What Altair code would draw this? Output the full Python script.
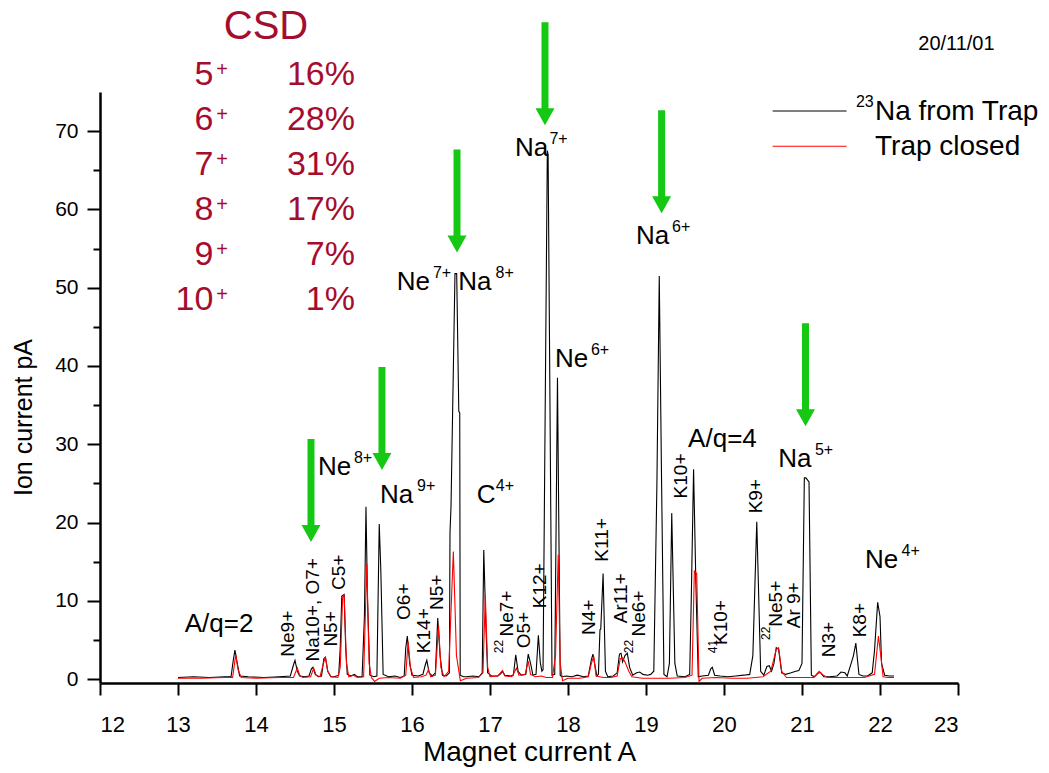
import altair as alt
import pandas as pd

# Magnet current (A) vs ion current (pA), 23Na injected from the trap
na_from_trap = [
    (13.00, 0.2), (13.20, 0.3), (13.40, 0.2), (13.60, 0.3), (13.68, 0.3), (13.71, 2.5), (13.73, 3.7),
    (13.76, 2.0), (13.79, 0.4), (13.90, 0.3), (14.10, 0.2), (14.30, 0.3), (14.44, 0.4), (14.48, 1.8),
    (14.50, 2.4), (14.53, 1.0), (14.56, 0.4), (14.62, 0.3), (14.68, 0.4), (14.71, 1.3), (14.73, 1.5),
    (14.76, 0.6), (14.80, 0.3), (14.84, 0.4), (14.87, 2.6), (14.89, 2.8), (14.92, 1.0), (14.96, 0.3),
    (15.00, 0.3), (15.06, 0.5), (15.08, 4.0), (15.10, 10.6), (15.13, 10.8), (15.15, 4.0), (15.17, 0.6),
    (15.22, 0.4), (15.26, 0.6), (15.30, 0.3), (15.36, 0.3), (15.39, 8.0), (15.41, 22.0), (15.43, 10.0),
    (15.46, 0.5), (15.51, 0.3), (15.55, 0.4), (15.58, 19.8), (15.60, 14.0), (15.63, 0.6), (15.70, 0.3),
    (15.78, 0.4), (15.85, 0.2), (15.90, 0.4), (15.92, 4.0), (15.94, 5.5), (15.97, 2.0), (16.00, 0.5),
    (16.08, 0.4), (16.14, 0.6), (16.17, 1.8), (16.19, 2.4), (16.22, 0.8), (16.26, 0.4), (16.30, 0.8),
    (16.33, 7.8), (16.36, 3.0), (16.39, 0.5), (16.44, 0.4), (16.48, 0.8), (16.487, 18.7), (16.50, 22.0),
    (16.551, 51.8), (16.573, 51.8), (16.60, 34.2), (16.612, 34.0), (16.618, 0.5), (16.66, 0.3),
    (16.70, 0.3), (16.78, 0.4), (16.86, 0.3), (16.90, 0.8), (16.92, 16.5), (16.95, 6.0), (16.97, 0.8),
    (17.02, 0.4), (17.10, 0.4), (17.14, 0.7), (17.16, 1.0), (17.19, 0.5), (17.26, 0.4), (17.30, 0.5),
    (17.33, 3.1), (17.36, 1.0), (17.40, 0.5), (17.46, 0.6), (17.49, 3.2), (17.52, 2.0), (17.55, 0.5),
    (17.59, 0.6), (17.62, 5.6), (17.645, 2.1), (17.665, 1.0), (17.68, 1.2), (17.735, 67.5), (17.745, 67.0),
    (17.795, 0.5), (17.83, 0.6), (17.865, 38.5), (17.90, 0.5), (17.92, 0.3), (17.98, 0.4), (18.05, 0.3),
    (18.12, 0.5), (18.20, 0.3), (18.26, 0.4), (18.30, 2.5), (18.32, 3.2), (18.35, 1.5), (18.37, 0.4),
    (18.39, 0.6), (18.41, 6.3), (18.42, 6.4), (18.45, 13.5), (18.48, 1.0), (18.51, 0.3), (18.58, 0.4),
    (18.63, 0.8), (18.66, 3.2), (18.68, 3.3), (18.70, 2.2), (18.73, 3.0), (18.76, 3.3), (18.79, 1.5),
    (18.83, 0.5), (18.88, 0.8), (18.92, 0.9), (18.96, 0.6), (19.02, 0.5), (19.06, 0.6), (19.10, 1.0),
    (19.14, 25.0), (19.17, 51.5), (19.20, 25.0), (19.23, 0.6), (19.27, 0.3), (19.30, 2.0), (19.33, 21.2),
    (19.37, 2.0), (19.40, 0.4), (19.50, 0.3), (19.56, 0.6), (19.58, 10.0), (19.61, 26.8), (19.64, 12.0),
    (19.67, 0.3), (19.72, 0.4), (19.80, 0.5), (19.83, 1.3), (19.85, 1.5), (19.88, 0.5), (19.95, 0.4),
    (20.05, 0.3), (20.15, 0.4), (20.25, 0.5), (20.33, 0.6), (20.37, 3.0), (20.42, 20.1), (20.47, 1.0),
    (20.51, 0.5), (20.55, 1.6), (20.58, 1.7), (20.61, 1.0), (20.64, 2.0), (20.67, 4.0), (20.70, 3.8),
    (20.74, 0.8), (20.79, 0.6), (20.86, 0.8), (20.92, 1.0), (20.96, 1.1), (21.00, 2.0), (21.03, 25.7),
    (21.05, 25.7), (21.09, 25.2), (21.12, 0.5), (21.16, 0.3), (21.21, 0.8), (21.24, 0.8), (21.28, 0.3),
    (21.35, 0.3), (21.45, 0.4), (21.50, 0.9), (21.55, 0.8), (21.58, 0.4), (21.63, 2.0), (21.66, 3.0),
    (21.69, 4.6), (21.73, 0.6), (21.78, 0.4), (21.84, 0.4), (21.90, 0.8), (21.93, 3.7), (21.97, 9.8),
    (22.00, 8.0), (22.02, 2.0), (22.06, 0.5), (22.12, 0.4), (22.18, 0.4),
]

# Same scan with the trap closed (background)
trap_closed = [
    (13.00, 0.1), (13.30, 0.1), (13.60, 0.2), (13.70, 0.2), (13.74, 3.1), (13.77, 1.2), (13.81, 0.2),
    (14.00, 0.1), (14.30, 0.2), (14.48, 0.2), (14.53, 1.4), (14.56, 0.5), (14.60, 0.2), (14.70, 0.3),
    (14.74, 1.4), (14.77, 0.5), (14.82, 0.3), (14.87, 2.2), (14.89, 2.8), (14.92, 1.0), (14.96, 0.3),
    (15.05, 0.2), (15.08, 1.5), (15.11, 10.4), (15.13, 10.8), (15.16, 2.0), (15.19, 0.3), (15.25, 0.5),
    (15.30, 0.2), (15.38, 0.3), (15.42, 14.7), (15.45, 2.0), (15.48, 0.2), (15.52, -0.3), (15.58, 0.1),
    (15.70, 0.2), (15.85, 0.1), (15.92, 0.5), (15.95, 4.8), (15.98, 1.5), (16.02, 0.2), (16.12, 0.3),
    (16.18, 0.5), (16.21, 1.2), (16.24, 0.3), (16.30, 0.5), (16.34, 6.9), (16.37, 1.5), (16.41, 0.3),
    (16.47, 1.0), (16.53, 16.3), (16.57, 3.0), (16.62, -0.2), (16.70, 0.1), (16.85, 0.2), (16.91, 0.8),
    (16.94, 10.7), (16.97, 1.5), (17.00, 0.3), (17.10, 0.4), (17.16, 1.1), (17.19, 0.4), (17.28, 0.3),
    (17.34, 1.4), (17.37, 0.5), (17.45, 0.6), (17.49, 2.3), (17.52, 0.6), (17.58, 0.3), (17.66, 0.4),
    (17.72, 0.2), (17.80, 0.2), (17.84, 3.0), (17.875, 15.9), (17.90, 2.0), (17.93, -0.2), (18.00, 0.1),
    (18.15, 0.1), (18.26, 0.3), (18.30, 2.0), (18.33, 2.9), (18.36, 0.4), (18.45, 0.2), (18.55, 0.2),
    (18.63, 0.4), (18.67, 2.6), (18.70, 2.7), (18.73, 2.2), (18.78, 1.0), (18.82, 0.3), (18.95, 0.1),
    (19.10, 0.1), (19.30, 0.1), (19.50, 0.2), (19.59, 0.5), (19.62, 13.8), (19.65, 13.5), (19.68, -0.3),
    (19.72, 0.1), (19.90, 0.2), (20.10, 0.1), (20.30, 0.1), (20.50, 0.3), (20.60, 1.0), (20.67, 3.8),
    (20.70, 4.0), (20.74, 1.0), (20.80, 0.2), (21.00, 0.2), (21.15, 0.2), (21.22, 1.0), (21.26, 0.6),
    (21.32, 0.2), (21.50, 0.2), (21.80, 0.2), (21.93, 0.6), (21.98, 5.5), (22.01, 3.0), (22.04, 0.3),
    (22.10, 0.2), (22.18, 0.2),
]

series_names = ["Na from Trap", "Trap closed"]
series_isotope = ["23", ""]
series_colors = ["#000000", "#ff0000"]

# Main ion species: element, charge, label anchor (A, pA) and charge anchor (A)
ion_elem = ["Ne", "Na", "Ne", "Na", "C", "Na", "Ne", "Na", "Na", "Ne"]
ion_charge = ["8+", "9+", "7+", "8+", "4+", "7+", "6+", "6+", "5+", "4+"]
ion_x = [14.795, 15.590, 15.804, 16.594, 16.830, 17.321, 17.833, 18.872, 20.696, 21.808]
ion_y = [26.07, 22.45, 49.70, 49.70, 22.45, 66.80, 39.85, 55.64, 27.12, 14.15]
ion_charge_x = [15.255, 16.065, 16.268, 17.072, 17.075, 17.762, 18.294, 19.334, 21.166, 22.276]

# A/q markers
aq_text = ["A/q=2", "A/q=4"]
aq_x = [13.526, 19.980]
aq_y = [6.05, 29.67]

# Minor peak identifications (written vertically)
tag_text = ["Ne9+", "Na10+, O7+", "N5+", "C5+", "O6+", "K14+", "N5+", "Ne7+", "O5+", "K12+",
            "N4+", "K11+", "Ar11+", "Ne6+", "K10+", "K10+", "K9+", "Ne5+", "Ar 9+", "N3+", "K8+"]
tag_x = [14.487, 14.808, 15.035, 15.141, 15.974, 16.231, 16.401, 17.299, 17.513, 17.718,
         18.346, 18.517, 18.751, 18.987, 20.033, 19.521, 20.482, 20.738, 20.974, 21.423, 21.821]
tag_y = [2.86, 2.24, 4.15, 11.38, 7.56, 3.31, 8.83, 5.43, 3.94, 9.05,
         5.64, 15.00, 7.14, 5.43, 4.35, 23.08, 21.17, 6.69, 6.49, 2.78, 5.33]

# Isotope mass numbers preceding some vertical tags
iso_text = ["22", "22", "41", "22"]
iso_x = [17.162, 18.837, 19.905, 20.590]
iso_y = [3.30, 3.30, 3.30, 5.00]

# Green arrows pointing at the sodium charge states (x, tip height)
arrow_x = [14.705, 15.615, 16.577, 17.705, 19.200, 21.045]
arrow_tip = [17.5, 26.7, 54.5, 70.75, 59.5, 32.3]

# Charge state distribution of the extracted sodium
csd_charge = ["5", "6", "7", "8", "9", "10"]
csd_percent = [16, 28, 31, 17, 7, 1]

run_date = "20/11/01"

x_ticks = [12 + 0.25 * i for i in range(45)]
y_ticks = [5 * i for i in range(15)]

FONT = "Liberation Sans"
WINE = "#a50d2e"
GREEN = "#14c814"
ARROW = "M0,0L-9.5,-17L-3.5,-17L-3.5,-103L3.5,-103L3.5,-17L9.5,-17Z"

xs = alt.Scale(domain=[12, 23], nice=False, zero=False)
ys = alt.Scale(domain=[-0.5, 75], nice=False, zero=False)

x_axis = alt.Axis(
    values=x_ticks, format="d", title="Magnet current A",
    labelExpr="datum.value % 1 === 0 ? datum.label : ''",
    tickSize={"condition": {"test": "datum.value % 1 !== 0", "value": 6}, "value": 12},
    labelFontSize=22, labelPadding=19,
    titleFontSize=28, titleY=77, titleBaseline="alphabetic",
)
y_axis = alt.Axis(
    values=y_ticks, format="d", title="Ion current pA",
    labelExpr="datum.value % 10 === 0 ? datum.label : ''",
    tickSize={"condition": {"test": "datum.value % 10 !== 0", "value": 7}, "value": 13},
    labelFontSize=21, labelPadding=9,
    titleFontSize=25, titleX=-69, titleY=325, titleAngle=270, titleAlign="center",
    titleBaseline="alphabetic",
)


def X(field="x"):
    return alt.X(f"{field}:Q", scale=xs, axis=x_axis)


def Y(field="y"):
    return alt.Y(f"{field}:Q", scale=ys, axis=y_axis)


def trace_df(points):
    return pd.DataFrame(points, columns=["x", "y"])


na_line = alt.Chart(trace_df(na_from_trap)).mark_line(
    color=series_colors[0], strokeWidth=1.1
).encode(x=X(), y=Y())
closed_line = alt.Chart(trace_df(trap_closed)).mark_line(
    color=series_colors[1], strokeWidth=1.1
).encode(x=X(), y=Y())

arrows = alt.Chart(pd.DataFrame({"x": arrow_x, "y": arrow_tip})).mark_point(
    shape=ARROW, size=4, filled=True, color=GREEN, opacity=1
).encode(x=X(), y=Y())

ions = pd.DataFrame({"elem": ion_elem, "charge": ion_charge, "x": ion_x, "y": ion_y, "cx": ion_charge_x})
ion_main = alt.Chart(ions).mark_text(
    font=FONT, fontSize=26, align="left", baseline="alphabetic", color="black"
).encode(x=X(), y=Y(), text="elem:N")
ion_sup = alt.Chart(ions).mark_text(
    font=FONT, fontSize=16, align="left", baseline="alphabetic", dy=-12, color="black"
).encode(x=X("cx"), y=Y(), text="charge:N")

aq = alt.Chart(pd.DataFrame({"t": aq_text, "x": aq_x, "y": aq_y})).mark_text(
    font=FONT, fontSize=26, align="center", baseline="alphabetic", color="black"
).encode(x=X(), y=Y(), text="t:N")

tags = alt.Chart(pd.DataFrame({"t": tag_text, "x": tag_x, "y": tag_y})).mark_text(
    font=FONT, fontSize=19, angle=270, align="left", baseline="alphabetic", color="black"
).encode(x=X(), y=Y(), text="t:N")
isos = alt.Chart(pd.DataFrame({"t": iso_text, "x": iso_x, "y": iso_y})).mark_text(
    font=FONT, fontSize=12, angle=270, align="left", baseline="alphabetic", color="black"
).encode(x=X(), y=Y(), text="t:N")

# Charge state table, laid out row by row below its heading
csd_top, csd_step = 75.86, 5.747
n_rows = len(csd_charge)
csd = pd.DataFrame({
    "q": csd_charge,
    "p": [f"{v}%" for v in csd_percent],
    "plus": ["+"] * n_rows,
    "y": [csd_top - i * csd_step for i in range(n_rows)],
    "xq": [13.453] * n_rows,
    "xplus": [13.49] * n_rows,
    "xp": [15.269] * n_rows,
})
csd_head = alt.Chart(pd.DataFrame({"t": ["CSD"], "x": [14.128], "y": [81.82]})).mark_text(
    font=FONT, fontSize=40, align="center", baseline="alphabetic", color=WINE
).encode(x=X(), y=Y(), text="t:N")
csd_q = alt.Chart(csd).mark_text(
    font=FONT, fontSize=34, align="right", baseline="alphabetic", color=WINE
).encode(x=X("xq"), y=Y(), text="q:N")
csd_plus = alt.Chart(csd).mark_text(
    font=FONT, fontSize=20, align="left", baseline="alphabetic", dy=-9, color=WINE
).encode(x=X("xplus"), y=Y(), text="plus:N")
csd_p = alt.Chart(csd).mark_text(
    font=FONT, fontSize=34, align="right", baseline="alphabetic", color=WINE
).encode(x=X("xp"), y=Y(), text="p:N")

# Legend block in the upper right corner
leg_top, leg_step = 72.58, 4.51
n_ser = len(series_names)
legend = pd.DataFrame({
    "name": series_names,
    "iso": series_isotope,
    "color": series_colors,
    "y": [leg_top - i * leg_step for i in range(n_ser)],
    "x0": [20.624] * n_ser,
    "x1": [21.572] * n_ser,
    "xt": [21.936] * n_ser,
    "xi": [21.692] * n_ser,
})
leg_lines = alt.Chart(legend).mark_rule(strokeWidth=1.1).encode(
    x=X("x0"), x2="x1:Q", y=Y(), color=alt.Color("color:N", scale=None),
)
leg_text = alt.Chart(legend).mark_text(
    font=FONT, fontSize=28, align="left", baseline="middle", dy=1, color="black"
).encode(x=X("xt"), y=Y(), text="name:N")
leg_iso = alt.Chart(legend).mark_text(
    font=FONT, fontSize=16, align="left", baseline="middle", dy=-9, color="black"
).encode(x=X("xi"), y=Y(), text="iso:N")

date = alt.Chart(pd.DataFrame({"t": [run_date], "x": [22.98], "y": [80.33]})).mark_text(
    font=FONT, fontSize=20, align="center", baseline="alphabetic", color="black"
).encode(x=X(), y=Y(), text="t:N")

chart = alt.layer(
    na_line, closed_line, arrows, ion_main, ion_sup, aq, tags, isos,
    csd_head, csd_q, csd_plus, csd_p, leg_lines, leg_text, leg_iso, date,
).properties(
    width=858, height=591, background="white",
    padding={"left": 100, "top": 92, "right": 91, "bottom": 90},
    autosize=alt.AutoSizeParams(type="none"),
).configure_view(strokeWidth=0).configure_axis(
    domainColor="black", domainWidth=2.5, tickColor="black", tickWidth=2,
    labelFont=FONT, labelColor="black",
    titleFont=FONT, titleFontWeight="normal", titleColor="black",
    grid=False,
)

chart.save("out.html", embed_options={"renderer": "svg", "actions": False})
